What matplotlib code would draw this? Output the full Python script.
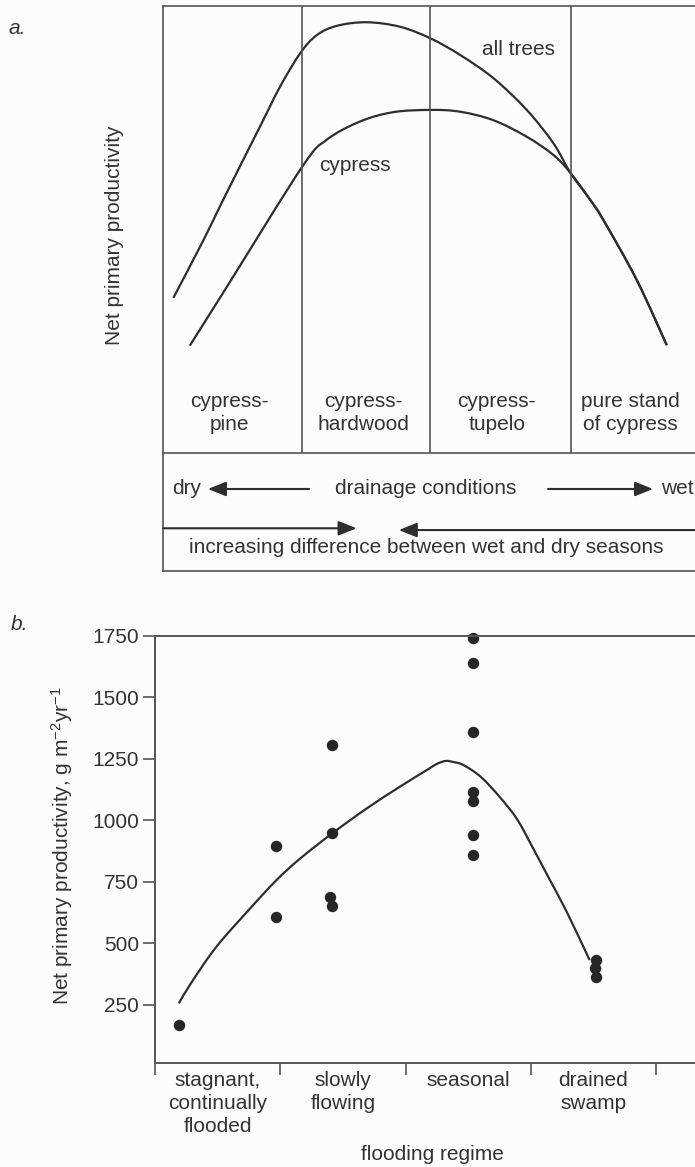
import matplotlib
matplotlib.use('Agg')
import matplotlib.pyplot as plt
from matplotlib.path import Path
from matplotlib.patches import PathPatch

plt.rcParams['font.family'] = ['Liberation Sans', 'DejaVu Sans']
plt.rcParams['mathtext.fontset'] = 'custom'
plt.rcParams['mathtext.rm'] = 'Liberation Sans'
plt.rcParams['mathtext.it'] = 'Liberation Sans:italic'

INK = '#333333'
LINE = '#2e2e2e'
FS = 15

# --- panel a: productivity along the drainage gradient (0 = dry, 100 = wet) ---
grad_all = [1.9, 7.4, 11.0, 17.7, 21.4, 25.1, 28.1, 31.8, 37.2,
            43.3, 48.9, 54.3, 60.4, 66.5, 71.4, 74.5, 78.1, 80.5, 86.6, 92.1]
npp_all = [34.7, 47.6, 56.6, 72.9, 81.9, 89.4, 93.4, 95.5, 96.3,
           95.3, 92.7, 89.0, 83.8, 76.7, 69.2, 62.6, 56.6, 52.1, 38.7, 24.1]
grad_cyp = [4.9, 11.7, 25.4, 29.9, 36.0, 42.1, 48.9, 54.3, 60.4,
            66.5, 71.4, 74.5, 78.1, 80.5, 86.6, 92.1]
npp_cyp = [24.0, 37.2, 63.9, 70.0, 74.1, 76.2, 76.7, 76.3, 74.4,
           70.7, 66.6, 62.6, 56.6, 52.1, 38.7, 24.1]
zone_edges = [25.4, 48.9, 74.5]
zone_mid = [12.1, 36.7, 61.0, 85.4]
zones = ['cypress-\npine', 'cypress-\nhardwood', 'cypress-\ntupelo',
         'pure stand\nof cypress']

# --- panel b: NPP by flooding regime ---
regimes = ['stagnant,\ncontinually\nflooded', 'slowly\nflowing', 'seasonal',
           'drained\nswamp']
obs_x = [0.19, 0.97, 0.97, 1.41, 1.41, 1.40, 1.41,
         2.54, 2.54, 2.54, 2.54, 2.54, 2.54, 2.54, 3.52, 3.51, 3.52]
obs_npp = [170, 605, 895, 1305, 950, 688, 652,
           1742, 1640, 1360, 1115, 1078, 940, 857, 432, 399, 365]
fit_x = [0.19, 0.29, 0.49, 0.76, 0.97, 1.16, 1.41, 1.69, 1.96, 2.17, 2.25, 2.32,
         2.38, 2.46, 2.60, 2.75, 2.89, 3.02, 3.15, 3.29, 3.47]
fit_npp = [256, 340, 486, 642, 757, 845, 945, 1048, 1138, 1204, 1229, 1241,
           1237, 1225, 1177, 1096, 1005, 885, 760, 625, 432]
npp_ticks = [250, 500, 750, 1000, 1250, 1500, 1750]

W, H = 695, 1167
fig = plt.figure(figsize=(W / 100, H / 100), dpi=100, facecolor='#fcfcfc')


def px_axes(left, top, right, bottom):
    # axes placed from pixel edges
    return fig.add_axes([left / W, 1 - bottom / H, (right - left) / W, (bottom - top) / H])


def smooth_line(ax, xs, ys, **kw):
    # draw a Catmull-Rom style bezier through the given points
    pts = list(zip(xs, ys))
    verts = [pts[0]]
    codes = [Path.MOVETO]
    for i in range(len(pts) - 1):
        p0 = pts[i - 1] if i > 0 else pts[i]
        p1, p2 = pts[i], pts[i + 1]
        p3 = pts[i + 2] if i + 2 < len(pts) else pts[i + 1]
        c1 = (p1[0] + (p2[0] - p0[0]) / 6, p1[1] + (p2[1] - p0[1]) / 6)
        c2 = (p2[0] - (p3[0] - p1[0]) / 6, p2[1] - (p3[1] - p1[1]) / 6)
        verts += [c1, c2, p2]
        codes += [Path.CURVE4] * 3
    ax.add_patch(PathPatch(Path(verts, codes), fill=False, capstyle='butt', **kw))


# ---------------- panel a ----------------
ax_a = px_axes(163, 5.7, 710, 453)
ax_a.set_facecolor('none')
smooth_line(ax_a, grad_all, npp_all, ec=LINE, lw=1.6)
smooth_line(ax_a, grad_cyp, npp_cyp, ec=LINE, lw=1.6)
for e in zone_edges:
    ax_a.axvline(e, color='#555555', lw=1.2)
for xm, name in zip(zone_mid, zones):
    ax_a.text(xm, 8.9, name, ha='center', va='center', fontsize=FS, color=INK,
              linespacing=1.25)
ax_a.text(65.0, 90.1, 'all trees', ha='center', va='center', fontsize=FS, color=INK)
ax_a.text(35.1, 64.2, 'cypress', ha='center', va='center', fontsize=FS, color=INK)
ax_a.set_xlim(0, 100)
ax_a.set_ylim(0, 100)
ax_a.set_xticks([])
ax_a.set_yticks([])
for s in ax_a.spines.values():
    s.set_color('#555555')
    s.set_linewidth(1.2)

# drainage table under the curves
ax_t = px_axes(163, 453, 710, 571)
ax_t.set_facecolor('none')
ax_t.set_xlim(0, 100)
ax_t.set_ylim(0, 1)
ax_t.set_xticks([])
ax_t.set_yticks([])
ax_t.spines['top'].set_visible(False)
for s in ax_t.spines.values():
    s.set_color('#555555')
    s.set_linewidth(1.2)

arrow = dict(arrowstyle='-|>,head_length=0.55,head_width=0.22', color=LINE,
             lw=1.5, shrinkA=0, shrinkB=0, mutation_scale=20)
ax_t.text(1.6, 0.695, 'dry', ha='left', va='center', fontsize=FS, color=INK)
ax_t.annotate('', xy=(8.2, 0.695), xytext=(26.7, 0.695), arrowprops=arrow)
ax_t.text(48.1, 0.695, 'drainage conditions', ha='center', va='center', fontsize=FS, color=INK)
ax_t.annotate('', xy=(89.6, 0.695), xytext=(70.4, 0.695), arrowprops=arrow)
ax_t.text(91.0, 0.695, 'wet', ha='left', va='center', fontsize=FS, color=INK)
ax_t.annotate('', xy=(35.4, 0.362), xytext=(0, 0.362), arrowprops=arrow)
ax_t.annotate('', xy=(43.1, 0.347), xytext=(105, 0.347), arrowprops=arrow,
              annotation_clip=False)
ax_t.text(48.2, 0.195, 'increasing difference between wet and dry seasons',
          ha='center', va='center', fontsize=FS, color=INK)

fig.text(115 / W, 1 - 235 / H, 'Net primary productivity', rotation=90,
         ha='center', va='center', fontsize=FS, color=INK)
fig.text(17 / W, 1 - 28 / H, 'a.', style='italic', ha='center', va='center',
         fontsize=FS, color=INK)

# ---------------- panel b ----------------
ax_b = px_axes(155, 635.7, 715, 1062.7)
ax_b.set_facecolor('none')
smooth_line(ax_b, fit_x, fit_npp, ec=LINE, lw=1.6)
ax_b.plot(obs_x, obs_npp, 'o', color='#262626', markersize=7.2, clip_on=False)
ax_b.set_xlim(0, 4.471)
ax_b.set_ylim(15, 1750)
ax_b.set_yticks(npp_ticks)
ax_b.set_yticklabels([str(v) for v in npp_ticks])
ax_b.set_xticks([0, 1, 2, 3, 4])
ax_b.set_xticklabels([])
ax_b.set_xticks([0.5, 1.5, 2.5, 3.5], minor=True)
ax_b.set_xticklabels(regimes, minor=True, fontsize=FS, color=INK, linespacing=1.25)
ax_b.tick_params(axis='both', which='major', direction='out', length=8.5,
                 width=1.2, color='#555555', labelsize=FS, labelcolor=INK, pad=3)
ax_b.tick_params(axis='x', which='minor', length=0, pad=6)
ax_b.spines['right'].set_visible(False)
for s in ['left', 'top', 'bottom']:
    ax_b.spines[s].set_color('#555555')
    ax_b.spines[s].set_linewidth(1.4)

fig.text(62 / W, 1 - 846 / H, r'Net primary productivity, g m$^{-2}$yr$^{-1}$',
         rotation=90, ha='center', va='center', fontsize=FS, color=INK)
fig.text(432 / W, 1 - 1155 / H, 'flooding regime', ha='center', va='center',
         fontsize=FS, color=INK)
fig.text(19 / W, 1 - 624 / H, 'b.', style='italic', ha='center', va='center',
         fontsize=FS, color=INK)

fig.savefig('out.png', dpi=100, facecolor=fig.get_facecolor())
